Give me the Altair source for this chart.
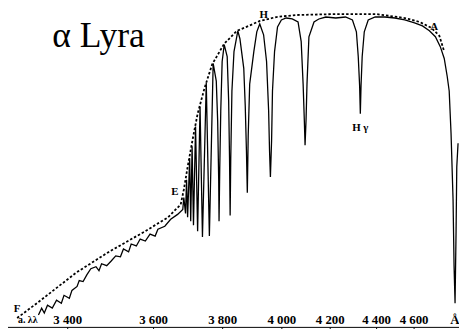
import altair as alt
import pandas as pd

# ---- spectrum of alpha Lyrae (wavelength in Angstrom, relative intensity) ----
spec_wl = [3346, 3352, 3357, 3363, 3372, 3380, 3389, 3394, 3405, 3411, 3423, 3428,
           3437, 3446, 3455, 3467, 3474, 3480, 3492, 3503, 3513, 3524, 3531, 3543,
           3549, 3561, 3570, 3582, 3593, 3606, 3614, 3634, 3651, 3671, 3686,
           3689, 3694, 3697, 3700, 3706, 3709, 3713, 3717, 3723, 3729, 3736, 3743,
           3754, 3763, 3774, 3783, 3787, 3790, 3791, 3793, 3796, 3800, 3807,
           3817, 3822, 3825, 3827, 3829, 3833, 3840, 3853,
           3860, 3873, 3878, 3882, 3885, 3888, 3893, 3907, 3917, 3927,
           3940, 3950, 3957, 3960, 3963, 3967, 3970, 3977, 3987, 4000, 4020, 4045,
           4069, 4082, 4090, 4095, 4098, 4102, 4106, 4114, 4135, 4155, 4184, 4226, 4268,
           4298, 4315, 4323, 4329, 4332, 4335, 4340, 4349, 4366, 4396,
           4447, 4500, 4553, 4606, 4656, 4700, 4738, 4769, 4794, 4814, 4828,
           4841, 4855, 4862, 4869, 4876, 4881, 4890]
spec_int = [12, 19, 14, 22, 19, 27, 24, 32, 29, 37, 41, 47,
            46, 53, 59, 61, 57, 64, 62, 67, 72, 71, 79, 76,
            84, 82, 89, 87, 94, 92, 99, 102, 109, 114, 119,
            131, 115, 149, 111, 171, 107, 183, 103, 203, 97, 223, 91,
            247, 92, 267, 249, 209, 149, 107, 159, 219, 269, 286,
            274, 229, 169, 113, 169, 239, 279, 300,
            292, 262, 224, 179, 136, 194, 246, 279, 299, 307,
            296, 269, 219, 179, 152, 189, 239, 279, 304, 311, 313, 312,
            309, 289, 246, 209, 184, 209, 246, 294, 309, 312, 314, 313, 314,
            311, 299, 274, 244, 216, 244, 274, 299, 311, 314,
            314, 313, 311, 308, 305, 300, 294, 284, 272, 254, 239,
            196, 129, 62, 24, 96, 162, 186]

# ---- dashed continuum ----
cont_wl = [3306, 3348, 3421, 3497, 3582, 3643, 3680, 3689, 3700, 3714, 3729,
           3749, 3771, 3807, 3850, 3890, 3927, 3983, 4061, 4226, 4400, 4553,
           4638, 4713, 4763, 4794]
cont_int = [9, 26, 55, 76, 97, 111, 124, 139, 162, 189, 216,
            242, 266, 287, 300, 305, 310, 314, 316, 317, 317, 313,
            309, 303, 295, 279]

# ---- axis ----
tick_wl = [3400, 3600, 3800, 4000, 4200, 4400, 4600]
# prism dispersion: piecewise wavelength -> pixel mapping
scale_wl = [3200, 3400, 3600, 3800, 4000, 4200, 4400, 4600, 4800, 5000]
scale_px = [-53, 55, 142, 212, 272, 321, 368, 406, 438, 467]

# ---- annotations ----
lab_text = ["E", "H", "A", "H γ", "F"]
lab_wl = [3663, 3940, 4731, 4332, 3306]
lab_int = [137, 316, 304, 201, 18]

W, H = 452, 321

spec = pd.DataFrame({"wl": spec_wl, "I": spec_int})
cont = pd.DataFrame({"wl": cont_wl, "I": cont_int})
labs = pd.DataFrame({"t": lab_text, "wl": lab_wl, "I": lab_int})
title_df = pd.DataFrame({"t": ["α Lyra"], "wl": [3372], "I": [284]})
bottom_df = pd.DataFrame({"t": ["a. λλ", "Å"], "wl": [3326, 4868], "I": [7, 7],
                          "s": [10, 13]})

xscale = alt.Scale(domain=scale_wl, range=scale_px, zero=False, nice=False)
yscale = alt.Scale(domain=[0, H], zero=False, nice=False)

xax = alt.Axis(values=tick_wl, title=None, grid=False,
               labelExpr="replace(format(datum.value, ','), ',', ' ')",
               labelFont="Liberation Serif", labelFontSize=13, labelFontWeight="bold",
               labelColor="black",
               labelPadding=-18, tickSize=5, tickColor="black", domainColor="black",
               labelFlush=False, labelOverlap=False)

base_x = alt.X("wl:Q", scale=xscale, axis=xax)
base_y = alt.Y("I:Q", scale=yscale, axis=None)

continuum = alt.Chart(cont).mark_line(color="black", strokeWidth=1.8,
                                       strokeDash=[2.5, 2]).encode(x=base_x, y=base_y)
spectrum = alt.Chart(spec).mark_line(color="black", strokeWidth=1.3).encode(
    x=alt.X("wl:Q", scale=xscale), y=alt.Y("I:Q", scale=yscale))

letters = alt.Chart(labs).mark_text(font="Liberation Serif", fontSize=11,
                                    fontWeight="bold", color="black").encode(
    x=alt.X("wl:Q", scale=xscale), y=alt.Y("I:Q", scale=yscale), text="t:N")

title = alt.Chart(title_df).mark_text(font="Liberation Serif", fontSize=36,
                                      align="left", baseline="alphabetic",
                                      color="black").encode(
    x=alt.X("wl:Q", scale=xscale), y=alt.Y("I:Q", scale=yscale), text="t:N")

bottom = alt.Chart(bottom_df).mark_text(font="Liberation Serif", fontWeight="bold",
                                        color="black").encode(
    x=alt.X("wl:Q", scale=xscale), y=alt.Y("I:Q", scale=yscale), text="t:N",
    size=alt.Size("s:Q", scale=None, legend=None))

chart = alt.layer(continuum, spectrum, letters, title, bottom).properties(
    width=W, height=H,
    autosize=alt.AutoSizeParams(type="none"),
    padding={"left": 5, "top": 0, "right": 0, "bottom": 0},
    background="white",
).configure_view(stroke=None)

chart.save("out.html", embed_options={"renderer": "svg", "actions": False})
